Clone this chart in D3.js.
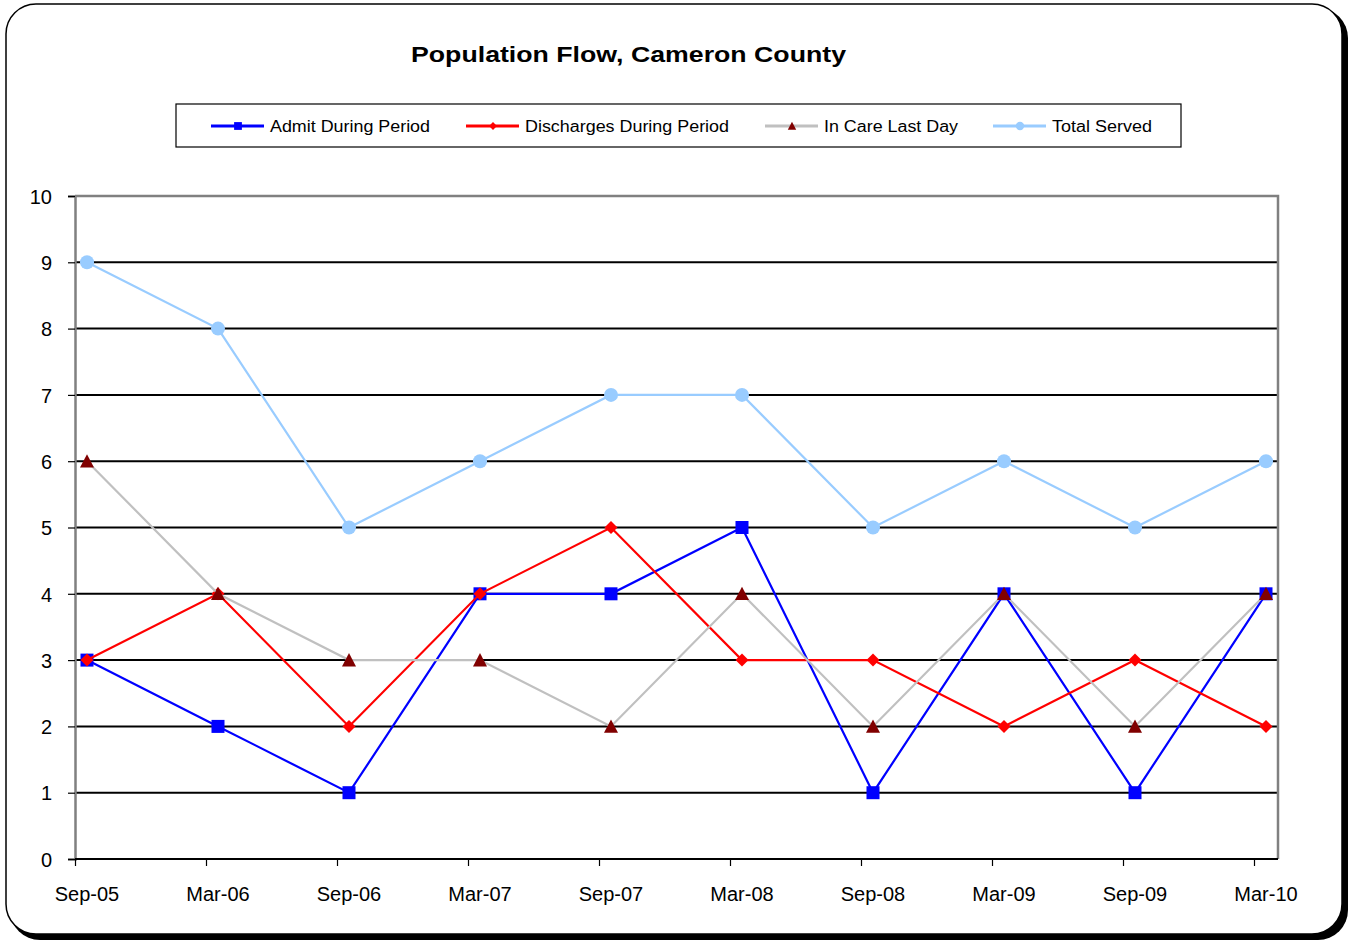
<!DOCTYPE html>
<html>
<head>
<meta charset="utf-8">
<script src="https://cdn.jsdelivr.net/npm/d3@7"></script>
<style>
  body { margin: 0; background: #fff; }
  svg { display: block; font-family: "Liberation Sans", Arial, sans-serif; }
</style>
</head>
<body>
<svg id="chart" width="1351" height="942"></svg>
<script>
// Chart data
const periods = ['Sep-05', 'Mar-06', 'Sep-06', 'Mar-07', 'Sep-07', 'Mar-08', 'Sep-08', 'Mar-09', 'Sep-09', 'Mar-10'];
const admits = [3, 2, 1, 4, 4, 5, 1, 4, 1, 4];
const discharges = [3, 4, 2, 4, 5, 3, 3, 2, 3, 2];
const inCare = [6, 4, 3, 3, 2, 4, 2, 4, 2, 4];
const totalServed = [9, 8, 5, 6, 7, 7, 5, 6, 5, 6];
const yTicks = [0, 1, 2, 3, 4, 5, 6, 7, 8, 9, 10];

const series = [
  { name: 'Admit During Period', values: admits, color: '#0000ff', marker: 'square', mColor: '#0000ff' },
  { name: 'Discharges During Period', values: discharges, color: '#ff0000', marker: 'diamond', mColor: '#ff0000' },
  { name: 'In Care Last Day', values: inCare, color: '#c0c0c0', marker: 'triangle', mColor: '#800000' },
  { name: 'Total Served', values: totalServed, color: '#99ccff', marker: 'circle', mColor: '#99ccff' }
];

const svg = d3.select('#chart');

// outer frame with shadow
svg.append('rect')
  .attr('x', 10).attr('y', 8).attr('width', 1338).attr('height', 932)
  .attr('rx', 30).attr('fill', '#000');
svg.append('rect')
  .attr('x', 6).attr('y', 4).attr('width', 1336).attr('height', 930)
  .attr('rx', 30).attr('fill', '#fff').attr('stroke', '#000').attr('stroke-width', 1.5);

// title (stretched wide like the original)
svg.append('text')
  .attr('x', 411).attr('y', 62)
  .attr('font-size', 22).attr('font-weight', 'bold')
  .attr('textLength', 435).attr('lengthAdjust', 'spacingAndGlyphs')
  .text('Population Flow, Cameron County');

// scales
const plot = { left: 75, right: 1278, top: 196, bottom: 859 };
const off = 12 / 131;
const x = d3.scaleLinear().domain([-off, periods.length - 1 + off]).range([plot.left, plot.right]);
const y = d3.scaleLinear().domain([0, 10]).range([plot.bottom, plot.top]);

// gridlines
svg.append('g')
  .selectAll('line')
  .data(yTicks.filter(d => d > 0 && d < 10))
  .join('line')
  .attr('x1', plot.left).attr('x2', plot.right)
  .attr('y1', d => y(d)).attr('y2', d => y(d))
  .attr('stroke', '#000').attr('stroke-width', 2);

// plot border (grey top/right)
svg.append('path')
  .attr('d', `M${plot.left},${plot.top}H${plot.right}V${plot.bottom}`)
  .attr('fill', 'none').attr('stroke', '#808080').attr('stroke-width', 2.5);

// y axis
const yAxis = svg.append('g')
  .attr('transform', `translate(${plot.left},0)`)
  .call(d3.axisLeft(y).tickValues(yTicks).tickSize(7).tickPadding(16));
yAxis.select('.domain').attr('stroke', '#808080').attr('stroke-width', 2.5);
yAxis.selectAll('.tick line').attr('stroke', '#000').attr('stroke-width', 1.2);
yAxis.selectAll('text').attr('font-size', 20).attr('fill', '#000').attr('dy', '0.36em')
  .attr('font-family', '"Liberation Sans", Arial, sans-serif');

// x axis: ticks at period start, labels under data points
const xAxis = svg.append('g')
  .attr('transform', `translate(0,${plot.bottom})`)
  .call(d3.axisBottom(x).tickValues(d3.range(periods.length).map(i => i - off)).tickSize(7).tickFormat(''));
xAxis.select('.domain').attr('stroke', '#000').attr('stroke-width', 2).attr('d', `M${plot.left},0H${plot.right}`);
xAxis.selectAll('.tick line').attr('stroke', '#000').attr('stroke-width', 1.2);

svg.append('g')
  .selectAll('text')
  .data(periods)
  .join('text')
  .attr('x', (d, i) => x(i))
  .attr('y', 901)
  .attr('text-anchor', 'middle')
  .attr('font-size', 20)
  .text(d => d);

// marker drawing
function drawMarker(g, type, color, cx, cy, scale = 1) {
  if (type === 'square') {
    const s = 13 * scale;
    g.append('rect').attr('x', cx - s / 2).attr('y', cy - s / 2).attr('width', s).attr('height', s).attr('fill', color);
  } else if (type === 'diamond') {
    const s = 6.5 * scale;
    g.append('path').attr('d', `M${cx},${cy - s}L${cx + s},${cy}L${cx},${cy + s}L${cx - s},${cy}Z`).attr('fill', color);
  } else if (type === 'triangle') {
    const s = 7 * scale;
    g.append('path').attr('d', `M${cx},${cy - s}L${cx + s},${cy + s * 0.9}L${cx - s},${cy + s * 0.9}Z`).attr('fill', color);
  } else {
    g.append('circle').attr('cx', cx).attr('cy', cy).attr('r', 7 * scale).attr('fill', color);
  }
}

const line = d3.line().x((d, i) => x(i)).y(d => y(d));

// draw series in order (later series on top)
series.forEach(s => {
  const g = svg.append('g');
  g.append('path')
    .attr('d', line(s.values))
    .attr('fill', 'none').attr('stroke', s.color).attr('stroke-width', 2.2);
  s.values.forEach((v, i) => drawMarker(g, s.marker, s.mColor, x(i), y(v)));
});

// legend
svg.append('rect')
  .attr('x', 176).attr('y', 104).attr('width', 1005).attr('height', 43)
  .attr('fill', '#fff').attr('stroke', '#000').attr('stroke-width', 1.2);

const legendX = [211, 466, 765, 993];
const legendTextW = [160, 204, 134, 100];
series.forEach((s, i) => {
  const g = svg.append('g');
  const lx = legendX[i];
  g.append('line')
    .attr('x1', lx).attr('x2', lx + 53).attr('y1', 126).attr('y2', 126)
    .attr('stroke', s.color).attr('stroke-width', 3);
  drawMarker(g, s.marker, s.mColor, lx + 27, 126, 0.6);
  g.append('text')
    .attr('x', lx + 59).attr('y', 132)
    .attr('font-size', 16)
    .attr('textLength', legendTextW[i]).attr('lengthAdjust', 'spacingAndGlyphs')
    .text(s.name);
});
</script>
</body>
</html>
